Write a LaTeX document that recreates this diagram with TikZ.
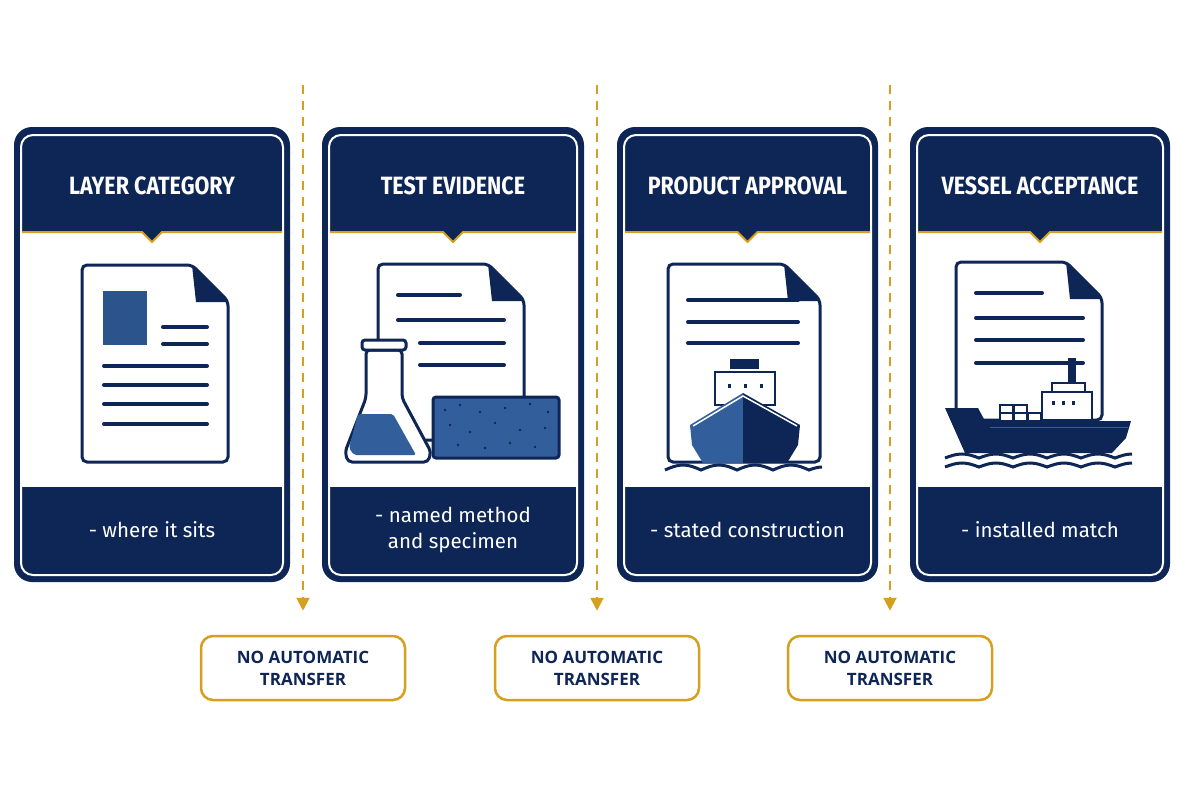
\documentclass[tikz,border=0pt]{standalone}
\usepackage{fontspec}
\setmainfont{Fira Sans}
\newfontfamily\hfont{Fira Sans}[FakeStretch=0.86]
\newfontfamily\lfont{Open Sans}
\usetikzlibrary{arrows.meta}
\definecolor{navy}{RGB}{14,38,86}
\definecolor{gold}{RGB}{214,160,30}
\definecolor{mblue}{RGB}{50,95,155}
\tikzset{
 x=1pt,y=-1pt,
 ttl/.style={text=white,font=\hfont\fontsize{25}{28}\selectfont\bfseries},
 sub/.style={text=white,font=\fontsize{20.5}{26}\selectfont,align=center},
 nat/.style={draw=gold,line width=2.5,rounded corners=12,minimum width=204,minimum height=64,text=navy,font=\lfont\fontsize{17}{22}\selectfont\bfseries,align=center,fill=white},
 guide/.style={gold,line width=2,dash pattern=on 9 off 7},
 ln/.style={navy,line width=4,line cap=round},
 doc/.style={navy,line width=3,fill=white,rounded corners=5},
}
\newcommand\mycard[5]{% x1 x2 name title sub
 \fill[navy,rounded corners=18] (#1,127) rectangle (#2,582);
 \fill[white] (#1+8,232) rectangle (#2-8,487);
 \draw[white,line width=2,rounded corners=12] (#1+7,135) rectangle (#2-7,575);
 \fill[navy] ({(#1+#2)/2-10},232)--({(#1+#2)/2},242)--({(#1+#2)/2+10},232)--cycle;
 \draw[gold,line width=2] (#1+8,232)--({(#1+#2)/2-10},232)--({(#1+#2)/2},242)--({(#1+#2)/2+10},232)--(#2-8,232);
 \node[ttl] (#3t) at ({(#1+#2)/2},186) {#4};
 \node[sub] (#3s) at ({(#1+#2)/2},530) {#5};
}
\newcommand\mydoc[4]{% x1 y1 x2 y2
 \draw[doc] (#1,#2)--(#3-36,#2)--(#3,#2+36)--(#3,#4)--(#1,#4)--cycle;
 \fill[navy] (#3-36,#2)--(#3,#2+37)--(#3-32,#2+37)--cycle;
}
\begin{document}
\begin{tikzpicture}
\useasboundingbox (0,0) rectangle (1200,800);
\fill[white] (0,0) rectangle (1200,800);
% guides
\foreach \gx/\n in {303/a,597/b,890/c}{
 \coordinate (g\n) at (\gx,85);
 \node[nat] (n\n) at (\gx,668) {NO AUTOMATIC\\TRANSFER};
 \draw[guide,-{Triangle[length=13,width=13]}] (g\n) -- ([yshift=24pt]n\n.north);
}
\mycard{14}{290}{c1}{LAYER CATEGORY}{- where it sits}
\mycard{322}{584}{c2}{TEST EVIDENCE}{- named method\\and specimen}
\mycard{617}{878}{c3}{PRODUCT APPROVAL}{- stated construction}
\mycard{910}{1170}{c4}{VESSEL ACCEPTANCE}{- installed match}
% card1 icon
\mydoc{82}{265}{228}{462}
\fill[mblue!80!navy] (103,291) rectangle (147,345);
\foreach \yy in {327,344} \draw[ln] (163,\yy)--(207,\yy);
\foreach \yy in {366,385,404,424} \draw[ln] (104,\yy)--(207,\yy);
% card2 icon
\mydoc{378}{264}{524}{440}
\draw[ln] (398,295)--(460,295);
\draw[ln] (398,320)--(504,320);
\draw[ln] (420,343)--(504,343);
\draw[ln] (420,365)--(504,365);
\draw[navy,line width=3,fill=white,rounded corners=4] (366,350)--(366,398)--(345,452)--(348,462)--(428,462)--(431,452)--(402,398)--(402,350)--cycle;
\draw[navy,line width=3,fill=white,rounded corners=3] (362,340) rectangle (406,350);
\fill[mblue,rounded corners=2] (358,414)--(393,414)--(416,455)--(354,455)--(349,448)--cycle;
\draw[navy,line width=3,fill=mblue,rounded corners=3] (433,397) rectangle (559,458);
\foreach \px/\py in {445/410, 460/405, 480/412, 505/408, 530/404, 548/412, 450/425, 470/432, 495/423, 520/430, 545/428, 458/445, 485/448, 510/443, 535/447}
 \fill[navy] (\px,\py) circle (1.3);
% card3 icon
\mydoc{668}{264}{820}{462}
\foreach \yy in {300,322,343} \draw[ln] (688,\yy)--(798,\yy);
\fill[navy] (730,359) rectangle (759,369);
\draw[navy,line width=2.5,fill=white] (715,372) rectangle (775,405);
\foreach \px in {728,744,760} \fill[navy] (\px,384) rectangle +(3,4);
\fill[mblue] (743,393)--(690,425)--(692,445)--(703,463)--(743,463)--cycle;
\fill[navy] (743,393)--(800,425)--(798,445)--(787,463)--(743,463)--cycle;
\draw[white,line width=1.5] (693,426)--(743,396)--(797,426);
\draw[navy,line width=3] (665,470) sin (683,465) cos (701,470) sin (719,465) cos (737,470) sin (755,465) cos (773,470) sin (791,465) cos (809,470) sin (822,467);
% card4 icon
\mydoc{956}{262}{1102}{420}
\draw[ln] (976,293)--(1042,293);
\foreach \yy in {318,340,363} \draw[ln] (976,\yy)--(1083,\yy);
\fill[navy] (1068,358) rectangle (1076,383);
\draw[navy,line width=2.5,fill=white] (1052,383) rectangle (1085,392);
\draw[navy,line width=2.5,fill=white] (1042,392) rectangle (1092,420);
\foreach \px in {1052,1062,1072} \fill[navy] (\px,401) rectangle +(3,4);
\foreach \cx/\cy in {1000/405,1014/405,1000/413,1014/413,1028/413} \draw[navy,line width=1.5,fill=white] (\cx,\cy) rectangle +(13,8);
\fill[navy] (945,408)--(978,408)--(985,421)--(1131,421)--(1126,438)--(1112,453)--(965,453)--cycle;
\draw[mblue,line width=1] (990,427)--(1128,427);
\foreach \wy in {458,467}
 \draw[navy,line width=3] (945,\wy) sin (962,\wy-4) cos (979,\wy) sin (996,\wy-4) cos (1013,\wy) sin (1030,\wy-4) cos (1047,\wy) sin (1064,\wy-4) cos (1081,\wy) sin (1098,\wy-4) cos (1115,\wy) sin (1132,\wy-4);
\end{tikzpicture}
\end{document}
